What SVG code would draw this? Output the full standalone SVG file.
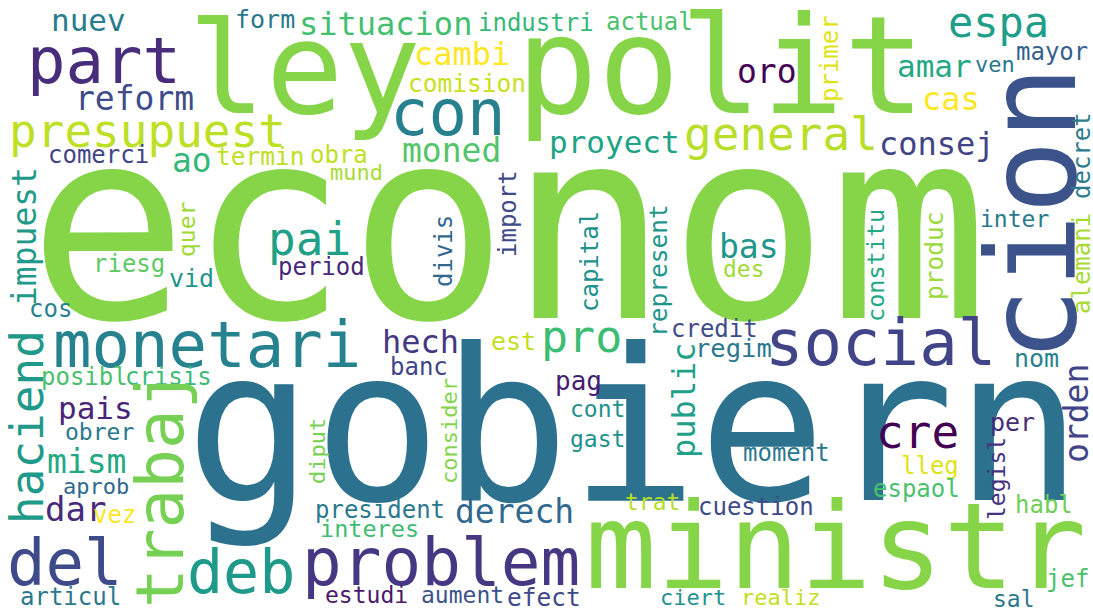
<svg xmlns="http://www.w3.org/2000/svg" width="1093" height="613" viewBox="0 0 1093 613">
<style>
text{font-family:"DejaVu Sans Mono","Liberation Mono",monospace}
.g{fill:#86d549}
</style>
<rect width="1093" height="613" fill="#ffffff"/>
<g id="words">
<text class="g" x="28" y="318" font-size="266">econom</text>
<text x="185" y="500" font-size="213" fill="#2c728e">gobiern</text>
<text class="g" x="516" y="113" font-size="136">polit</text>
<text class="g" x="188" y="113" font-size="129">ley</text>
<text class="g" x="585" y="588" font-size="119">ministr</text>
<text x="27" y="83" font-size="64" fill="#472d7b">part</text>
<text x="9" y="147" font-size="46" fill="#bddf26">presupuest</text>
<text x="390" y="135" font-size="64" fill="#27808e">con</text>
<text x="684" y="150" font-size="46" fill="#b8de29">general</text>
<text x="549" y="153" font-size="31" fill="#20a386">proyect</text>
<text x="948" y="37" font-size="42" fill="#1f9e89">espa</text>
<text x="897" y="77" font-size="31" fill="#22a884">amar</text>
<text x="975" y="72" font-size="22" fill="#2a788e">ven</text>
<text x="1016" y="60" font-size="24" fill="#355f8d">mayor</text>
<text x="922" y="110" font-size="32" fill="#fde725">cas</text>
<text x="879" y="155" font-size="32" fill="#414487">consej</text>
<text x="737" y="83" font-size="33" fill="#440154">oro</text>
<text x="299" y="35" font-size="32" fill="#44bf70">situacion</text>
<text x="478" y="31" font-size="24" fill="#35b779">industri</text>
<text x="606" y="30" font-size="24" fill="#4ac16d">actual</text>
<text x="235" y="28" font-size="25" fill="#2a788e">form</text>
<text x="51" y="31" font-size="31" fill="#287c8e">nuev</text>
<text x="75" y="110" font-size="33" fill="#3e4c8a">reform</text>
<text x="414" y="65" font-size="32" fill="#fde725">cambi</text>
<text x="408" y="92" font-size="24.5" fill="#c8e020">comision</text>
<text x="402" y="162" font-size="33" fill="#52c569">moned</text>
<text x="310" y="163" font-size="24" fill="#c2df23">obra</text>
<text x="216" y="165" font-size="24.5" fill="#bddf26">termin</text>
<text x="48" y="163" font-size="24" fill="#414487">comerci</text>
<text x="172" y="172" font-size="33" fill="#35b779">ao</text>
<text x="330" y="180" font-size="22" fill="#a8db34">mund</text>
<text x="93" y="272" font-size="24" fill="#5ec962">riesg</text>
<text x="169" y="287" font-size="25" fill="#1f968b">vid</text>
<text x="29" y="317" font-size="24" fill="#26828e">cos</text>
<text x="268" y="255" font-size="46" fill="#1fa187">pai</text>
<text x="278" y="275" font-size="24" fill="#482878">period</text>
<text x="53" y="367" font-size="64" fill="#26828e">monetari</text>
<text x="41" y="385" font-size="24" fill="#4ac16d">posibl</text>
<text x="125" y="385" font-size="24" fill="#3bbb75">crisis</text>
<text x="58" y="419" font-size="31" fill="#482677">pais</text>
<text x="65" y="440" font-size="23" fill="#2a788e">obrer</text>
<text x="47" y="473" font-size="33" fill="#22a884">mism</text>
<text x="63" y="494" font-size="22" fill="#30698e">aprob</text>
<text x="45" y="521" font-size="34" fill="#472a7a">dar</text>
<text x="93" y="523" font-size="24" fill="#fde725">vez</text>
<text x="7" y="585" font-size="64" fill="#3e4a89">del</text>
<text x="20" y="605" font-size="24" fill="#2a788e">articul</text>
<text x="187" y="593" font-size="60" fill="#1f9a8a">deb</text>
<text x="302" y="585" font-size="66" fill="#453781">problem</text>
<text x="315" y="518" font-size="24" fill="#2a788e">president</text>
<text x="320" y="537" font-size="23.5" fill="#40bd72">interes</text>
<text x="455" y="523" font-size="33" fill="#31688e">derech</text>
<text x="325" y="603" font-size="23" fill="#481a6c">estudi</text>
<text x="421" y="603" font-size="23" fill="#3b528b">aument</text>
<text x="507" y="606" font-size="24.5" fill="#3e4989">efect</text>
<text x="382" y="353" font-size="32" fill="#453781">hech</text>
<text x="390" y="375" font-size="24" fill="#414487">banc</text>
<text x="491" y="350" font-size="25" fill="#c2df23">est</text>
<text x="541" y="352" font-size="45" fill="#3dbc74">pro</text>
<text x="719" y="258" font-size="33" fill="#1f968b">bas</text>
<text x="723" y="277" font-size="23" fill="#a0da39">des</text>
<text x="671" y="337" font-size="24" fill="#3e4c8a">credit</text>
<text x="695" y="357" font-size="25.5" fill="#2a788e">regim</text>
<text x="555" y="390" font-size="26" fill="#481f70">pag</text>
<text x="570" y="417" font-size="23" fill="#21918c">cont</text>
<text x="570" y="447" font-size="23" fill="#21918c">gast</text>
<text x="743" y="461" font-size="24" fill="#2a788e">moment</text>
<text x="625" y="510" font-size="23" fill="#b5de2b">trat</text>
<text x="698" y="515" font-size="24" fill="#3e4a89">cuestion</text>
<text x="660" y="605" font-size="22" fill="#21918c">ciert</text>
<text x="741" y="605" font-size="22" fill="#c2df23">realiz</text>
<text x="876" y="448" font-size="46" fill="#440154">cre</text>
<text x="990" y="431" font-size="25" fill="#472c7a">per</text>
<text x="901" y="474" font-size="24" fill="#dfe318">lleg</text>
<text x="873" y="497" font-size="24" fill="#4ac16d">espaol</text>
<text x="1015" y="513" font-size="24" fill="#6ece58">habl</text>
<text x="1046" y="587" font-size="24" fill="#4ac16d">jef</text>
<text x="993" y="607" font-size="23" fill="#2a788e">sal</text>
<text x="980" y="227" font-size="23" fill="#2a788e">inter</text>
<text x="765" y="365" font-size="64" fill="#414487">social</text>
<text x="1014" y="367" font-size="25" fill="#26828e">nom</text>
<text transform="translate(1075 362) rotate(-90)" font-size="123" fill="#3b528b">cion</text>
<text transform="translate(838 102) rotate(-90)" font-size="24" fill="#dfe318">primer</text>
<text transform="translate(1090 199) rotate(-90)" font-size="24" fill="#2c7c8e">decret</text>
<text transform="translate(36 306) rotate(-90)" font-size="33" fill="#1f9a8a">impuest</text>
<text transform="translate(195 257) rotate(-90)" font-size="23" fill="#a0da39">quer</text>
<text transform="translate(452 287) rotate(-90)" font-size="24" fill="#31688e">divis</text>
<text transform="translate(516 257) rotate(-90)" font-size="24" fill="#3e4a89">import</text>
<text transform="translate(43 524) rotate(-90)" font-size="46" fill="#1f998a">haciend</text>
<text transform="translate(183 608) rotate(-90)" font-size="66" fill="#75d054">trabaj</text>
<text transform="translate(325 484) rotate(-90)" font-size="22" fill="#7ad151">diput</text>
<text transform="translate(457 484) rotate(-90)" font-size="22" fill="#84d44b">consider</text>
<text transform="translate(598 312) rotate(-90)" font-size="24" fill="#21918c">capital</text>
<text transform="translate(667 337) rotate(-90)" font-size="24.5" fill="#1f968b">represent</text>
<text transform="translate(695 458) rotate(-90)" font-size="32" fill="#1fa088">public</text>
<text transform="translate(1088 463) rotate(-90)" font-size="33" fill="#414487">orden</text>
<text transform="translate(1005 520) rotate(-90)" font-size="23" fill="#46337f">legisl</text>
<text transform="translate(884 322) rotate(-90)" font-size="23.5" fill="#22a884">constitu</text>
<text transform="translate(943 300) rotate(-90)" font-size="24.5" fill="#9bd93c">produc</text>
<text transform="translate(1090 314) rotate(-90)" font-size="24" fill="#a8db34">alemani</text>
</g>
</svg>
